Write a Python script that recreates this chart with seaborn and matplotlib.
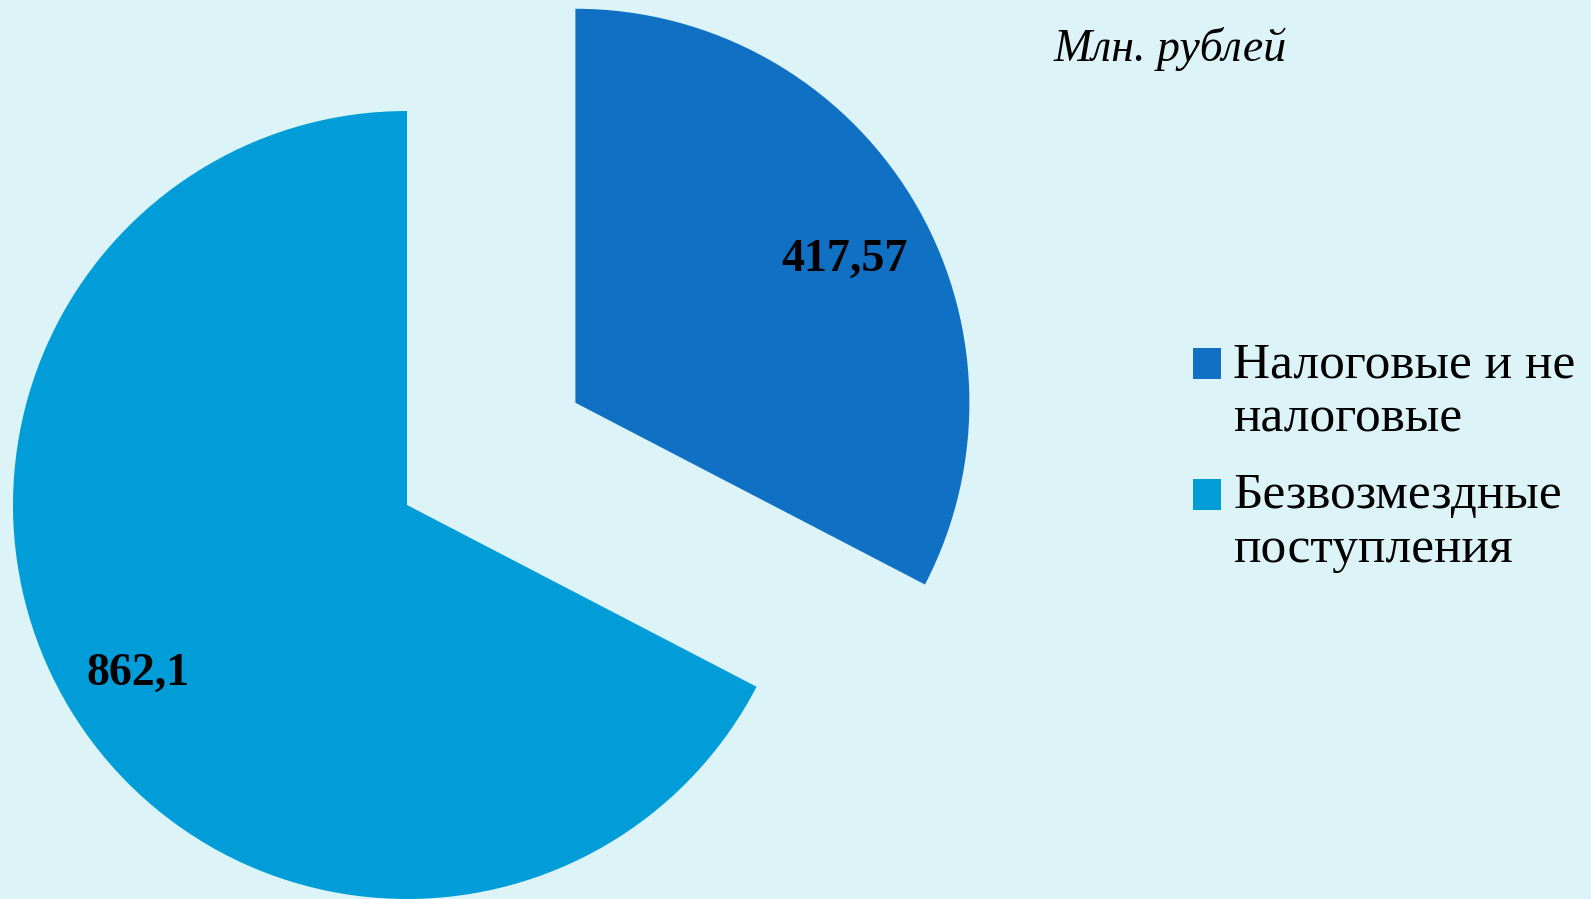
import matplotlib
matplotlib.use('Agg')
import matplotlib.pyplot as plt
from matplotlib.patches import Rectangle
from matplotlib.legend_handler import HandlerPatch
import seaborn as sns

# Data
categories = ['Налоговые и не\nналоговые', 'Безвозмездные\nпоступления']
values = [417.57, 862.1]
value_labels = ['417,57', '862,1']
colors = ['#1070C4', '#009DD8']
bg = '#DCF4F8'

sns.set_theme(style='white')
plt.rcParams['font.family'] = ['Liberation Serif', 'DejaVu Serif']
plt.rcParams['text.color'] = 'black'

W, H = 1591, 899
fig = plt.figure(figsize=(W / 100, H / 100), dpi=100)
fig.patch.set_facecolor(bg)
ax = fig.add_axes([0, 0, 1, 1])
ax.set_facecolor(bg)

R = 394
labels_iter = iter(value_labels)
wedges, _, autotexts = ax.pie(
    values, colors=colors, startangle=90, counterclock=False,
    center=(407, 394), radius=R, explode=[0.5 * R, 0],
    autopct=lambda p: next(labels_iter), pctdistance=0.8,
    wedgeprops=dict(linewidth=0),
    textprops=dict(fontsize=33, fontweight='bold', color='black'),
    frame=True,
)
autotexts[0].set_va('top')
autotexts[1].set_va('center_baseline')
ax.set_xlim(0, W)
ax.set_ylim(0, H)
ax.set_aspect('equal')
ax.axis('off')


# legend squares sit next to the first line of each two-line label
def top_square(legend, orig_handle, xdescent, ydescent, width, height, fontsize):
    return Rectangle((-xdescent, -ydescent + 20), width, height)


ax.legend(wedges, categories, loc='upper left', bbox_to_anchor=(1193 / W, 1 - 342 / H),
          frameon=False, fontsize=37, handlelength=0.55, handleheight=0.55,
          handletextpad=0.23, labelspacing=0.6, borderaxespad=0, borderpad=0,
          handler_map={w: HandlerPatch(patch_func=top_square) for w in wedges})

fig.text(1054 / W, 1 - 49 / H, 'Млн. рублей', fontsize=33, style='italic',
         va='center', ha='left', color='black')

fig.savefig('out.png', dpi=100, facecolor=bg)
